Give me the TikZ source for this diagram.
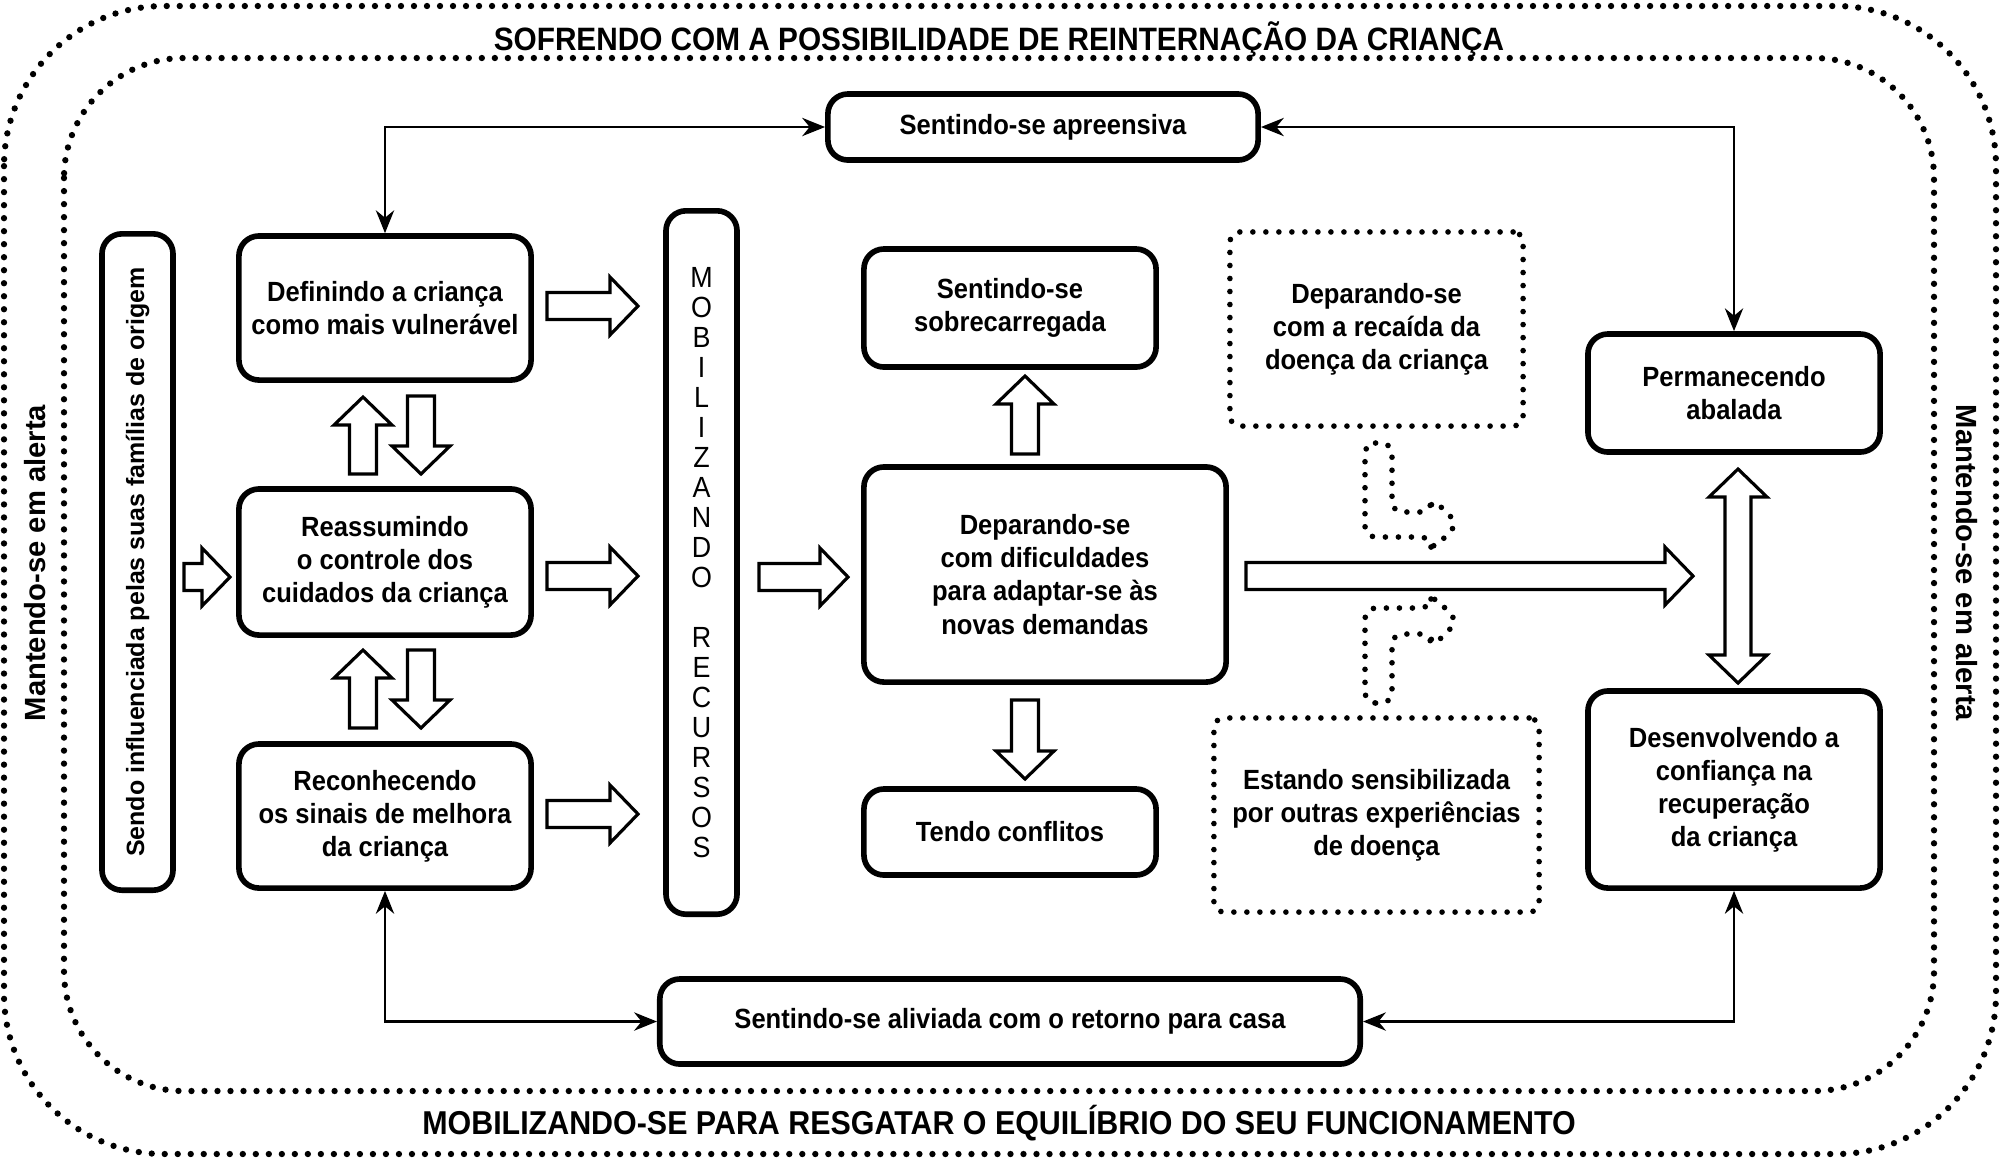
\documentclass[tikz,border=0pt]{standalone}
\usepackage{fontspec}
\setmainfont{Liberation Sans}
\newfontfamily\condfont{Liberation Sans}[FakeStretch=0.92]
\usetikzlibrary{arrows.meta,calc}

\tikzset{
  caixa/.style={draw, line width=1.6pt, rounded corners=2mm, align=center, inner sep=0pt,
    font=\condfont\bfseries\fontsize{7.9}{9.4}\selectfont},
  pontos/.style={line width=1.6pt, dash pattern=on 0pt off 3.7pt, line cap=round},
  tracejada/.style={caixa, pontos, rounded corners=1mm},
  moldura/.style={line width=1.8pt, dash pattern=on 0pt off 3.7pt, line cap=round},
  titulo/.style={font=\condfont\bfseries\fontsize{9.2}{11}\selectfont, inner sep=0pt},
  lateral/.style={font=\bfseries\fontsize{8.3}{10}\selectfont, inner sep=0pt},
  seta/.style={draw, line width=0.9pt, fill=white, line join=miter},
  conector/.style={line width=0.7pt, {Stealth[length=6.5pt,width=5.2pt]}-{Stealth[length=6.5pt,width=5.2pt]}}
}

% fat block arrow: start point, length, direction
\newcommand{\setalarga}[3]{%
  \draw[seta, shift={#1}, rotate=#3] (0,-13.5) -- ({#2-28},-13.5) -- ({#2-28},-29) -- (#2,0)
    -- ({#2-28},29) -- ({#2-28},13.5) -- (0,13.5) -- cycle;}

\begin{document}
\begin{tikzpicture}[x=0.01cm, y=-0.01cm]
  \useasboundingbox (0,0) rectangle (2000,1159);

  % dotted frames
  \draw[moldura, rounded corners=1.6cm] (4,6) rectangle (1996,1154);
  \draw[moldura, rounded corners=1.2cm] (64,58) rectangle (1934,1091);
  \node[titulo] (sofrendo) at (999,39) {SOFRENDO COM A POSSIBILIDADE DE REINTERNAÇÃO DA CRIANÇA};
  \node[titulo, font=\condfont\bfseries\fontsize{9.4}{11}\selectfont] (mobilizandose) at (999,1123) {MOBILIZANDO-SE PARA RESGATAR O EQUILÍBRIO DO SEU FUNCIONAMENTO};
  \node[lateral, rotate=90] (alertaE) at (35,563) {Mantendo-se em alerta};
  \node[lateral, rotate=-90] (alertaD) at (1967,563) {Mantendo-se em alerta};

  % boxes
  \node[caixa, rotate=90, minimum width=6.56cm, minimum height=0.71cm,
    font=\bfseries\fontsize{7.1}{9}\selectfont] (sendo) at (137.5,562) {Sendo influenciada pelas suas famílias de origem};
  \node[caixa, minimum width=2.92cm, minimum height=1.44cm] (definindo) at (385,308) {Definindo a criança\\como mais vulnerável};
  \node[caixa, minimum width=2.92cm, minimum height=1.46cm] (reassumindo) at (385,562) {Reassumindo\\o controle dos\\cuidados da criança};
  \node[caixa, minimum width=2.92cm, minimum height=1.44cm] (reconhecendo) at (385,816) {Reconhecendo\\os sinais de melhora\\da criança};
  \node[caixa, minimum width=0.71cm, minimum height=7.03cm,
    font=\condfont\fontsize{8.3}{8.54}\selectfont] (recursos) at (701.5,562.5)
    {M\\O\\B\\I\\L\\I\\Z\\A\\N\\D\\O\\[8.54pt]R\\E\\C\\U\\R\\S\\O\\S};
  \node[caixa, minimum width=3.62cm, minimum height=2.15cm] (deparando) at (1045,574.5) {Deparando-se\\com dificuldades\\para adaptar-se às\\novas demandas};
  \node[caixa, minimum width=2.92cm, minimum height=1.18cm] (sobrecarregada) at (1010,308) {Sentindo-se\\sobrecarregada};
  \node[caixa, minimum width=2.92cm, minimum height=0.86cm] (conflitos) at (1010,832) {Tendo conflitos};
  \node[caixa, minimum width=4.30cm, minimum height=0.66cm] (apreensiva) at (1043,127) {Sentindo-se apreensiva};
  \node[caixa, minimum width=7.00cm, minimum height=0.85cm] (aliviada) at (1010,1021.5) {Sentindo-se aliviada com o retorno para casa};
  \node[tracejada, minimum width=2.93cm, minimum height=1.94cm] (recaida) at (1376.5,329) {Deparando-se\\com a recaída da\\doença da criança};
  \node[tracejada, minimum width=3.25cm, minimum height=1.94cm] (sensibilizada) at (1376.5,815) {Estando sensibilizada\\por outras experiências\\de doença};
  \node[caixa, minimum width=2.92cm, minimum height=1.18cm] (permanecendo) at (1734,393) {Permanecendo\\abalada};
  \node[caixa, minimum width=2.92cm, minimum height=1.97cm] (desenvolvendo) at (1734,789.5) {Desenvolvendo a\\confiança na\\recuperação\\da criança};

  % block arrows
  \setalarga{(184,577)}{46}{0}
  \setalarga{(547,306)}{91}{0}
  \setalarga{(547,576)}{91}{0}
  \setalarga{(547,814)}{91}{0}
  \setalarga{(759,577)}{89}{0}
  \setalarga{(1246,576)}{447}{0}
  \setalarga{(363,474)}{77}{90}
  \setalarga{(421,396)}{78}{-90}
  \setalarga{(363,728)}{78}{90}
  \setalarga{(421,650)}{78}{-90}
  \setalarga{(1025,454)}{78}{90}
  \setalarga{(1025,700)}{79}{-90}
  \draw[seta] (1738,469) -- (1767,497) -- (1751,497) -- (1751,655) -- (1767,655) -- (1738,683)
    -- (1709,655) -- (1725,655) -- (1725,497) -- (1709,497) -- cycle; % both ways

  % dotted bent arrows
  \draw[pontos, rounded corners=3pt] (1365,443) -- (1392,443) -- (1392,512) -- (1431,512) -- (1431,497)
    -- (1458,524) -- (1431,551) -- (1431,537) -- (1365,537) -- cycle;
  \draw[pontos, rounded corners=3pt] (1365,703) -- (1392,703) -- (1392,634) -- (1431,634) -- (1431,648)
    -- (1458,621) -- (1431,594) -- (1431,608) -- (1365,608) -- cycle;

  % connectors
  \draw[conector] (definindo.north) |- (apreensiva.west);
  \draw[conector] (apreensiva.east) -| (permanecendo.north);
  \draw[conector] (reconhecendo.south) |- (aliviada.west);
  \draw[conector] (aliviada.east) -| (desenvolvendo.south);
\end{tikzpicture}
\end{document}
